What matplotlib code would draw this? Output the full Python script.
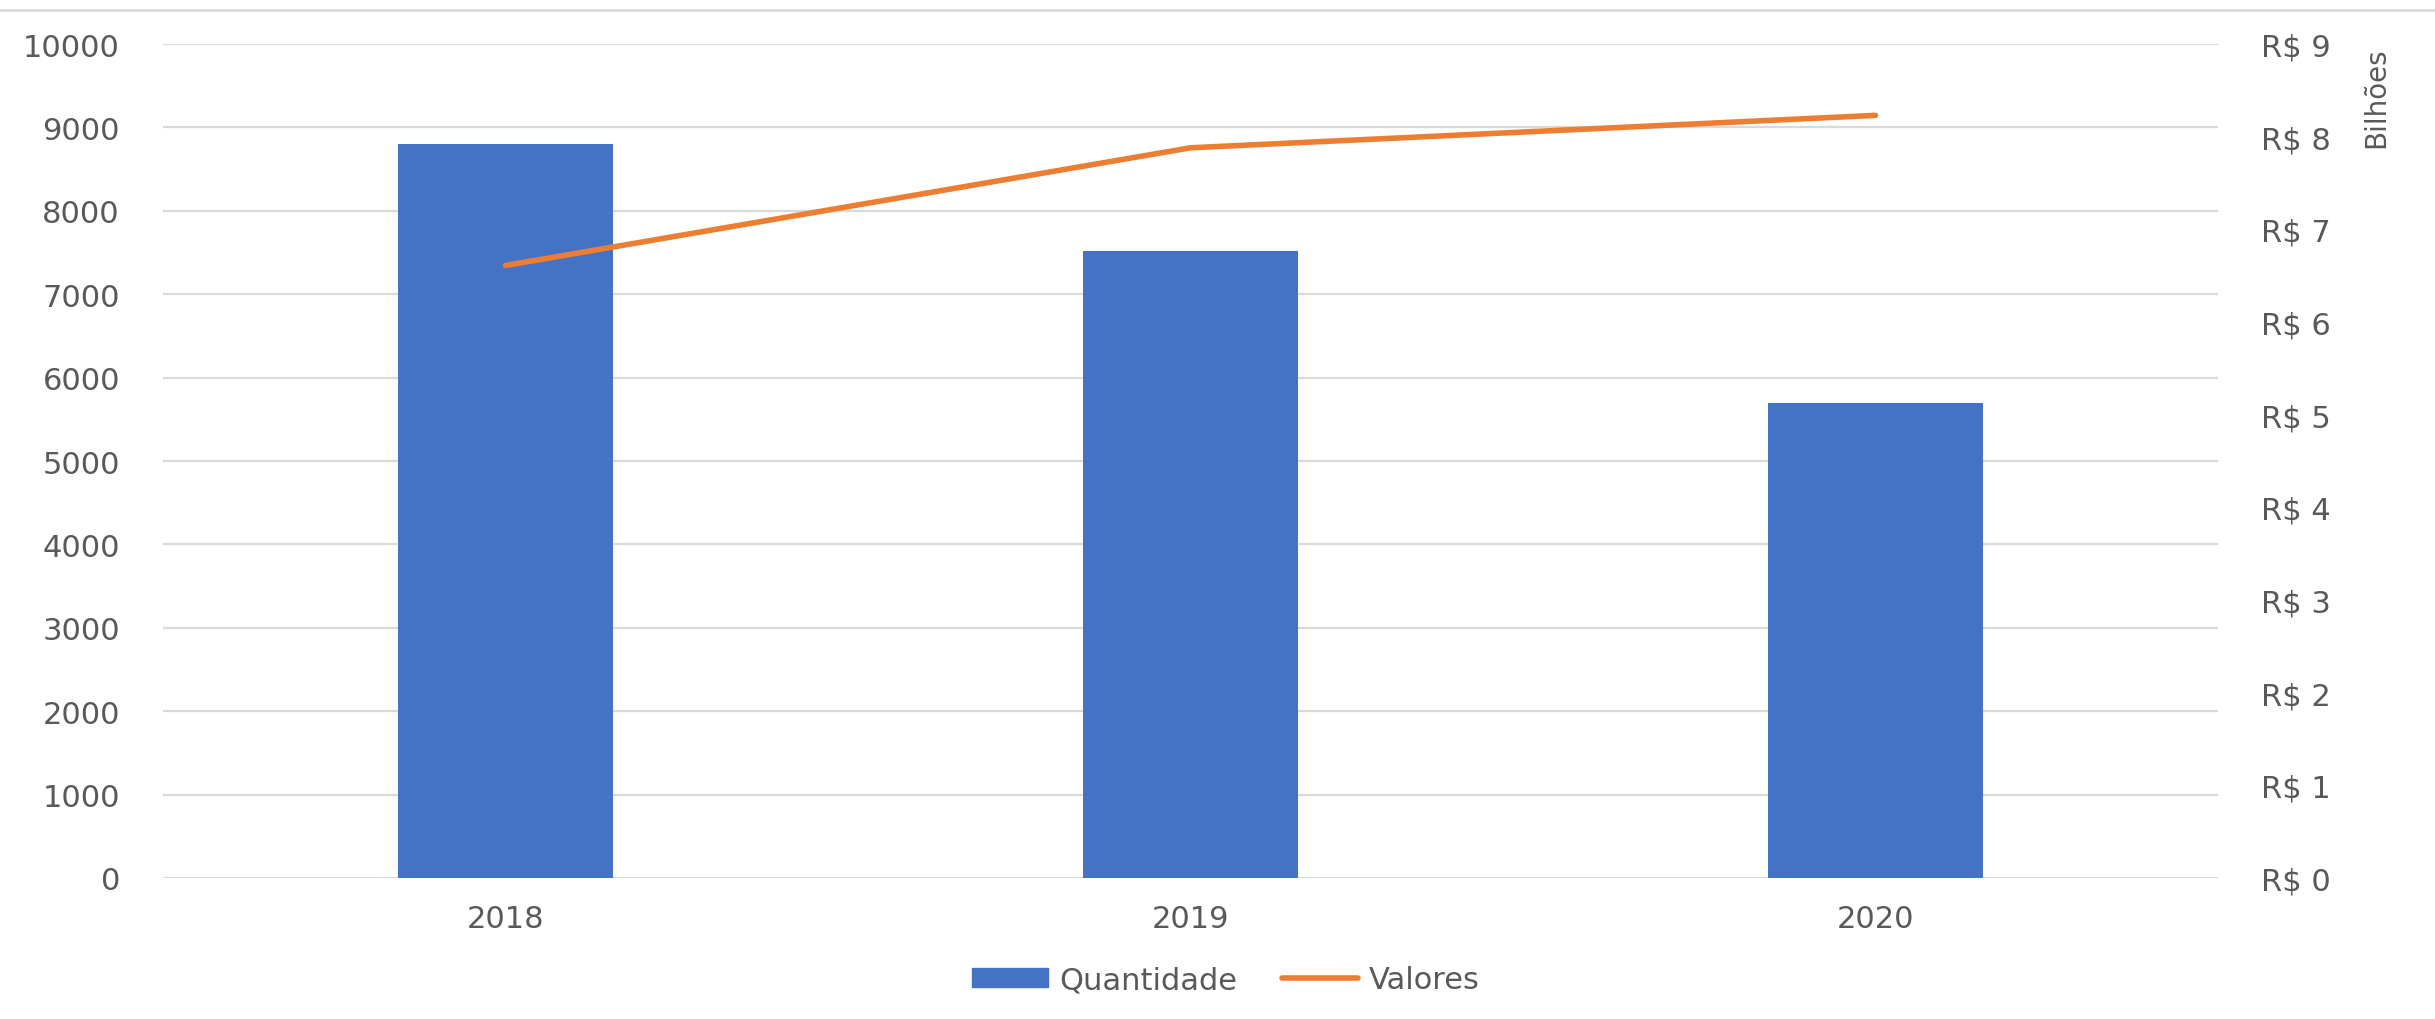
import matplotlib
matplotlib.use("Agg")
import matplotlib.pyplot as plt
from matplotlib.patches import Patch
from matplotlib.lines import Line2D

# data
years = ["2018", "2019", "2020"]
quantidade = [8800, 7520, 5700]
valores = [6.61, 7.88, 8.23]   # R$ billions
left_ticks = list(range(0, 10001, 1000))
right_ticks = list(range(0, 10))

BLUE = "#4472C4"
ORANGE = "#ED7D31"
GRID = "#D9D9D9"
TXT = "#595959"
FS = 22

plt.rcParams['font.family'] = ['DejaVu Sans']

fig = plt.figure(figsize=(24.35, 10.20), dpi=100)
ax = fig.add_axes([163/2435, 1 - 879/1020, (2218 - 163)/2435, (879 - 45)/1020])

x = list(range(len(years)))
ax.bar(x, quantidade, width=0.315, color=BLUE, zorder=2)
ax.set_xlim(-0.5, len(years) - 0.5)
ax.set_ylim(0, 10000)
ax.set_yticks(left_ticks)
ax.set_xticks(x)
ax.set_xticklabels(years)
ax.grid(axis="y", color=GRID, linewidth=1.6, zorder=0)
ax.set_axisbelow(True)
for s in ax.spines.values():
    s.set_visible(False)
ax.axhline(0, color=GRID, linewidth=2.2, zorder=1)
ax.tick_params(axis="y", length=0, pad=31, labelsize=FS, labelcolor=TXT)
ax.tick_params(axis="x", length=0, pad=19, labelsize=FS, labelcolor=TXT)

ax2 = ax.twinx()
ax2.plot(x, valores, color=ORANGE, linewidth=4, solid_capstyle="round", zorder=3)
ax2.set_ylim(0, 9)
ax2.set_yticks(right_ticks)
ax2.set_yticklabels(["R$ %d" % v for v in right_ticks])
for s in ax2.spines.values():
    s.set_visible(False)
ax2.tick_params(axis="y", length=0, pad=31, labelsize=FS, labelcolor=TXT)

fig.text(2376/2435, 1 - 98/1020, "Bilhões", rotation=90, ha="center", va="center",
         fontsize=20, color=TXT)

# chart frame top edge
fig.add_artist(Line2D([0, 1], [1 - 11/1020, 1 - 11/1020], transform=fig.transFigure,
                      color=GRID, linewidth=2))

handles = [Patch(facecolor=BLUE, edgecolor=BLUE),
           Line2D([0], [0], color=ORANGE, linewidth=4, solid_capstyle="round")]
fig.legend(handles, ["Quantidade", "Valores"], loc="center", bbox_to_anchor=(1226/2435, 1 - 981/1020),
           ncol=2, frameon=False, fontsize=FS, labelcolor=TXT, handlelength=2.5,
           handleheight=0.55, handletextpad=0.36, columnspacing=1.45)

fig.savefig("out.png", dpi=100, facecolor="white")
